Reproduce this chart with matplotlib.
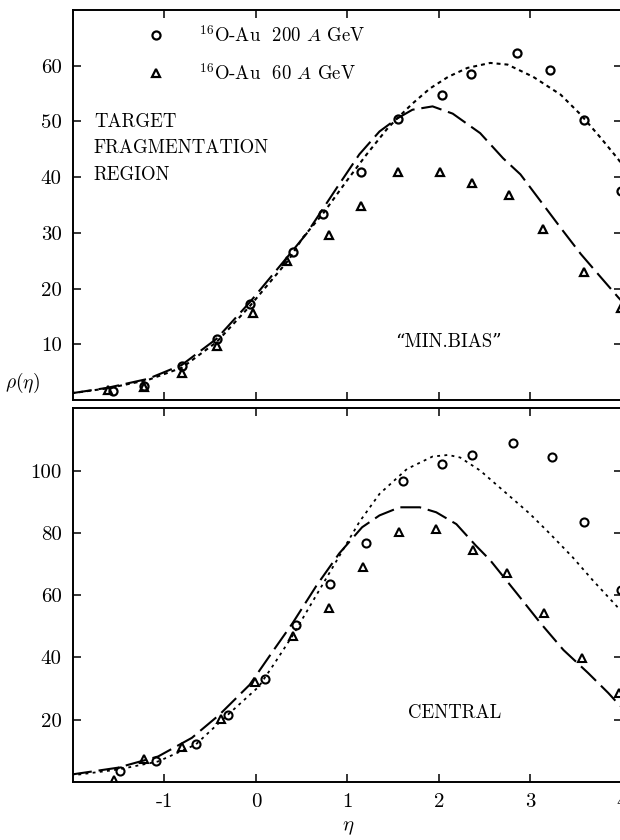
import matplotlib
matplotlib.use("Agg")
import matplotlib.pyplot as plt
import numpy as np

plt.rcParams['font.family'] = ['cmr10', 'DejaVu Serif']
plt.rcParams['mathtext.fontset'] = 'cm'
plt.rcParams['axes.unicode_minus'] = False

# ---- data ----
# upper panel: "min. bias"
top_circ_eta = [-1.56, -1.22, -0.81, -0.43, -0.07, 0.40, 0.73, 1.15, 1.55, 2.03, 2.35, 2.85, 3.21, 3.58, 3.99]
top_circ_rho = [1.6, 2.5, 6.1, 10.9, 17.3, 26.6, 33.3, 41.0, 50.5, 54.8, 58.6, 62.3, 59.3, 50.2, 37.5]
top_tri_eta = [-1.62, -1.22, -0.81, -0.43, -0.03, 0.34, 0.80, 1.15, 1.55, 2.01, 2.36, 2.77, 3.14, 3.59, 3.99]
top_tri_rho = [1.8, 2.4, 4.8, 9.7, 15.7, 25.0, 29.6, 34.8, 40.9, 41.0, 38.9, 36.8, 30.7, 23.0, 16.6]

top_fit200_eta = [-2.02, -1.62, -1.18, -0.81, -0.43, -0.07, 0.36, 0.51, 0.73, 0.99, 1.21, 1.43, 1.54, 1.71,
                  1.90, 2.10, 2.31, 2.56, 2.75, 3.03, 3.33, 3.55, 3.77, 3.95, 4.05]
top_fit200_rho = [1.2, 2.1, 3.6, 5.8, 10.4, 16.8, 25.2, 29.1, 33.4, 39.3, 44.1, 48.6, 50.5, 53.2,
                  55.9, 58.0, 59.6, 60.5, 60.2, 58.0, 54.8, 51.2, 47.0, 43.4, 41.2]
top_fit60_eta = [-2.02, -1.62, -1.18, -0.81, -0.43, -0.07, 0.36, 0.55, 0.88, 1.13, 1.35, 1.54, 1.71, 1.93,
                 2.15, 2.45, 2.70, 2.89, 3.11, 3.33, 3.55, 3.77, 3.96, 4.05]
top_fit60_rho = [1.2, 2.2, 3.8, 6.3, 11.0, 17.5, 26.0, 29.8, 38.0, 44.1, 48.2, 50.5, 52.1, 52.7,
                 51.4, 47.9, 43.4, 40.5, 35.7, 30.9, 26.2, 22.0, 18.4, 16.8]

# lower panel: "central"
bot_circ_eta = [-1.49, -1.09, -0.66, -0.31, 0.10, 0.44, 0.81, 1.20, 1.61, 2.03, 2.36, 2.81, 3.23, 3.58, 3.99]
bot_circ_rho = [3.4, 6.9, 12.3, 21.6, 33.1, 50.4, 63.5, 76.6, 96.5, 102.2, 105.0, 108.9, 104.2, 83.4, 61.6]
bot_tri_eta = [-1.55, -1.22, -0.81, -0.38, -0.01, 0.40, 0.80, 1.17, 1.56, 1.97, 2.37, 2.74, 3.15, 3.56, 3.97]
bot_tri_rho = [0.8, 7.5, 11.4, 20.3, 32.0, 46.9, 55.8, 68.9, 80.2, 81.1, 74.4, 67.0, 54.2, 39.8, 28.6]

bot_fit200_eta = [-2.02, -1.51, -1.07, -0.66, -0.33, 0.03, 0.20, 0.40, 0.62, 0.88, 1.13, 1.35, 1.65, 1.93,
                  2.10, 2.23, 2.45, 2.74, 2.99, 3.21, 3.46, 3.68, 3.95, 4.05]
bot_fit200_rho = [2.1, 4.0, 6.6, 12.0, 21.0, 30.6, 38.0, 47.0, 58.0, 71.0, 83.5, 92.5, 100.5, 104.5,
                  105.0, 104.2, 100.0, 92.6, 86.2, 79.8, 72.2, 64.8, 56.2, 53.5]
bot_fit60_eta = [-2.02, -1.51, -1.07, -0.70, -0.40, -0.07, 0.18, 0.40, 0.66, 0.91, 1.16, 1.35, 1.57, 1.79,
                 1.97, 2.19, 2.40, 2.56, 2.85, 3.11, 3.36, 3.63, 3.85, 3.95, 4.05]
bot_fit60_rho = [2.4, 4.6, 8.2, 14.2, 21.6, 31.2, 41.8, 51.0, 63.0, 73.4, 81.8, 85.6, 88.2, 88.2,
                 86.6, 82.8, 76.0, 71.2, 60.6, 51.0, 42.4, 35.0, 28.6, 25.4, 22.6]

xticks = [-1, 0, 1, 2, 3, 4]
xtick_labels = ['-1', '0', '1', '2', '3', '4']
top_yticks = [10, 20, 30, 40, 50, 60]
bot_yticks = [20, 40, 60, 80, 100]

label200 = r'$^{16}$O-Au  200 $A$ GeV'
label60 = r'$^{16}$O-Au  60 $A$ GeV'

fig = plt.figure(figsize=(6.2, 8.4), dpi=100)
ax1 = fig.add_axes([0.1177, 0.5238, 0.8855, 0.4643])
ax2 = fig.add_axes([0.1177, 0.069, 0.8855, 0.445])

long_dash = (0, (10, 3.3))
short_dash = (0, (1.9, 1.9))

for ax in (ax1, ax2):
    ax.set_xlim(-2.0, 4.0)
    ax.set_xticks(xticks)
    for s in ax.spines.values():
        s.set_linewidth(1.4)
    ax.tick_params(direction='in', top=True, right=True, length=6, width=1.1,
                   labelsize=15, pad=8)

# upper panel
ax1.plot(top_fit200_eta, top_fit200_rho, color='black', lw=1.5, linestyle=short_dash)
ax1.plot(top_fit60_eta, top_fit60_rho, color='black', lw=1.5, linestyle=long_dash)
h1, = ax1.plot(top_circ_eta, top_circ_rho, 'o', ms=5.8, mfc='none', mec='black', mew=1.6,
               label=label200)
h2, = ax1.plot(top_tri_eta, top_tri_rho, '^', ms=6.3, mfc='none', mec='black', mew=1.6,
               label=label60)
ax1.set_ylim(0, 70)
ax1.set_yticks(top_yticks)
ax1.set_yticklabels([str(v) for v in top_yticks])
ax1.set_xticklabels([])
ax1.legend(handles=[h1, h2], loc='upper left', bbox_to_anchor=(0.135, 0.962),
           frameon=False, fontsize=13.5, handlelength=0.9, handletextpad=1.85,
           labelspacing=0.9, borderpad=0, borderaxespad=0)
ax1.text(0.038, 0.645, 'TARGET\nFRAGMENTATION\nREGION', transform=ax1.transAxes,
         fontsize=13.5, ha='left', va='center', linespacing=1.6)
ax1.text(0.683, 0.149, '\u201cMIN.BIAS\u201d', transform=ax1.transAxes,
         fontsize=13.5, ha='center', va='center')

# lower panel
ax2.plot(bot_fit200_eta, bot_fit200_rho, color='black', lw=1.3, linestyle=(0, (1.6, 2.4)))
ax2.plot(bot_fit60_eta, bot_fit60_rho, color='black', lw=1.5, linestyle=long_dash)
ax2.plot(bot_circ_eta, bot_circ_rho, 'o', ms=5.8, mfc='none', mec='black', mew=1.5)
ax2.plot(bot_tri_eta, bot_tri_rho, '^', ms=6.3, mfc='none', mec='black', mew=1.5)
ax2.set_ylim(0, 120)
ax2.set_yticks(bot_yticks)
ax2.set_yticklabels([str(v) for v in bot_yticks])
ax2.set_xticklabels(xtick_labels)
ax2.text(0.696, 0.184, 'CENTRAL', transform=ax2.transAxes,
         fontsize=13.5, ha='center', va='center')

fig.text(0.037, 0.544, r'$\rho(\eta)$', fontsize=14, ha='center', va='center')
fig.text(0.561, 0.014, r'$\eta$', fontsize=15, ha='center', va='center')

fig.savefig('out.png', dpi=100)
